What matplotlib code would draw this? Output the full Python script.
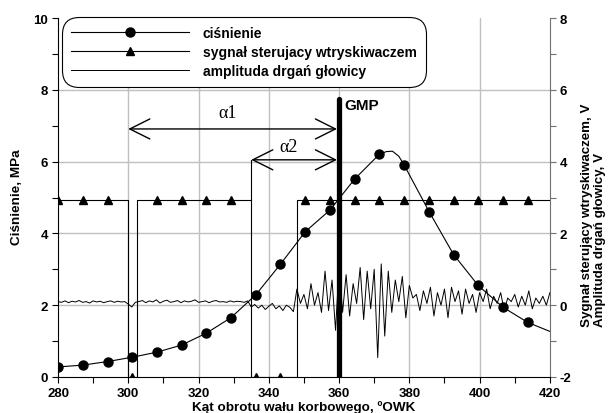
import numpy as np
import matplotlib
matplotlib.use("Agg")
import matplotlib.pyplot as plt
from matplotlib.ticker import MultipleLocator

plt.rcParams['font.family'] = ['Liberation Sans', 'DejaVu Sans']
plt.rcParams['font.weight'] = 'bold'
plt.rcParams['axes.unicode_minus'] = False

# ciśnienie (punkty z markerami co ~7 deg)
kat_p = [280.0, 287.0, 294.1, 301.1, 308.1, 315.2, 322.2, 329.2, 336.3, 343.3,
         350.4, 357.4, 364.4, 371.5, 378.5, 385.6, 392.6, 399.6, 406.7, 413.7]
cisn = [0.28, 0.33, 0.43, 0.55, 0.69, 0.89, 1.22, 1.65, 2.29, 3.14,
        4.05, 4.65, 5.51, 6.21, 5.91, 4.61, 3.41, 2.55, 1.94, 1.52]
# odczytane dodatkowe punkty linii (okolice szczytu i koniec)
kat_p_extra = [373.5, 375.2, 377.0, 420.0]
cisn_extra = [6.28, 6.29, 6.15, 1.27]

# sygnał sterujący wtryskiwaczem (prawa oś), przebieg prostokątny
kat_syg = [280, 300, 300, 302.4, 302.4, 335, 335, 348, 348, 420]
syg = [2.94, 2.94, -2.0, -2.0, 2.94, 2.94, -2.0, -2.0, 2.94, 2.94]
syg_mark = [2.94, 2.94, 2.94, -2.0, 2.94, 2.94, 2.94, 2.94, -2.0, -2.0,
            2.94, 2.94, 2.94, 2.94, 2.94, 2.94, 2.94, 2.94, 2.94, 2.94]

# amplituda drgań głowicy, co 1 deg od 280
drgania = [0.10, 0.08, 0.12, 0.07, 0.11, 0.09, 0.13, 0.08, 0.10, 0.06,
           0.12, 0.09, 0.11, 0.07, 0.10, 0.12, 0.08, 0.11, 0.09, 0.10,
           0.03, -0.05, 0.08,
           0.10, 0.13, 0.07, 0.12, 0.09, 0.15, 0.06, 0.11, 0.14, 0.08,
           0.10, 0.13, 0.07, 0.12, 0.09, 0.11, 0.15, 0.08, 0.10, 0.12,
           0.07, 0.11, 0.13, 0.09, 0.10, 0.08, 0.12, 0.09, 0.11, 0.10,
           0.08, 0.12,
           -0.05, 0.02, -0.08, 0.00, -0.12, -0.03, 0.05, -0.10, -0.02, -0.15,
           0.00, -0.06, -0.18,
           0.45, 0.05, 0.30, -0.10, 0.60, 0.00, 0.35, -0.20, 0.95, -0.15,
           0.70, -0.70,
           1.10, -0.20, 0.85, -0.30, 0.60, 0.05, 1.05, -0.40, 0.95, -0.10,
           1.00, -1.46, 1.15, -0.86, 0.95, -0.20, 0.70, 0.10, 0.80, -0.35,
           0.55,
           0.20, 0.30, -0.15, 0.40, 0.05, 0.50, -0.30, 0.35, 0.00, 0.45,
           -0.35, 0.50, 0.10, 0.40, -0.25, 0.45, 0.05, 0.30, -0.20, 0.35,
           0.10, 0.45, -0.10, 0.25, 0.05, 0.35, -0.15, 0.20, 0.10, 0.30,
           -0.05, 0.25, 0.00, 0.40, -0.10, 0.20, 0.05, 0.25, 0.00, 0.35]
kat_d = np.arange(280, 280 + len(drgania))

fig = plt.figure(figsize=(6.08, 4.14), dpi=100)
ax2 = fig.add_axes([0.0954, 0.087, 0.809, 0.867])
ax = ax2.twinx()
ax.yaxis.tick_left()
ax.yaxis.set_label_position('left')
ax2.yaxis.tick_right()

# siatka
for xg in [300, 320, 340, 360, 380, 400]:
    ax2.axvline(xg, color='#c0c0c0', lw=1, zorder=0)
for yg in [0, 2, 4, 6]:
    ax2.axhline(yg, color='#c0c0c0', lw=1, zorder=0)

l_syg, = ax2.plot(kat_syg, syg, color='black', lw=0.8)
ax2.plot(kat_p, syg_mark, ls='none', marker='^', ms=5.5, color='black')
l_d, = ax2.plot(kat_d, drgania, color='black', lw=0.7)

# linia ciśnienia przez punkty + odczytany szczyt
xs = np.array(kat_p + kat_p_extra)
ys = np.array(cisn + cisn_extra)
order = np.argsort(xs)
ax.plot(xs[order], ys[order], color='black', lw=0.8)
ax.plot(kat_p, cisn, ls='none', marker='o', ms=6.5, color='black')
h_p, = ax.plot([], [], color='black', lw=0.8, marker='o', ms=6.5)
h_s, = ax.plot([], [], color='black', lw=0.8, marker='^', ms=5.5)

# GMP
ax.plot([360, 360], [0, 7.75], color='black', lw=3.8, solid_capstyle='round', zorder=5)
ax.text(361.6, 7.58, 'GMP', fontsize=11, fontweight='bold', va='center', ha='left')

arr = dict(arrowstyle='<->,head_length=0.6,head_width=0.3', mutation_scale=24,
           lw=1.0, color='black', shrinkA=0, shrinkB=0)
ax.annotate('', xy=(300, 6.91), xytext=(359.4, 6.91), arrowprops=arr)
ax.annotate('', xy=(335, 6.05), xytext=(359.4, 6.05), arrowprops=arr)
ax.plot([335, 335], [4.94, 6.05], color='black', lw=0.8)
ax.text(328.4, 7.38, 'α1', family=['Liberation Serif', 'DejaVu Serif'], fontweight='normal',
        fontsize=13, ha='center', va='center')
ax.text(345.5, 6.41, 'α2', family=['Liberation Serif', 'DejaVu Serif'], fontweight='normal',
        fontsize=13, ha='center', va='center')

ax.set_xlim(280, 420)
ax.set_ylim(0, 10)
ax2.set_ylim(-2, 8)
ax2.set_xlim(280, 420)

ax.yaxis.set_major_locator(MultipleLocator(2))
ax.yaxis.set_minor_locator(MultipleLocator(1))
ax2.yaxis.set_major_locator(MultipleLocator(2))
ax2.yaxis.set_minor_locator(MultipleLocator(1))
ax2.xaxis.set_major_locator(MultipleLocator(20))
ax2.xaxis.set_minor_locator(MultipleLocator(10))

for a in (ax, ax2):
    a.tick_params(which='major', direction='out', length=4, width=0.8, labelsize=9.5, pad=3)
    a.tick_params(which='minor', direction='out', length=4, width=0.8)
    a.spines['top'].set_visible(False)
    for lab in a.get_xticklabels() + a.get_yticklabels():
        lab.set_fontweight('bold')

ax.spines['right'].set_visible(False)
ax.spines['bottom'].set_visible(False)
ax2.spines['left'].set_visible(False)
ax2.spines['right'].set_color('#707070')
ax2.tick_params(axis='y', which='both', colors='#707070', labelcolor='black')

leg = ax.legend([h_p, h_s, l_d],
                ['ciśnienie', 'sygnał sterujacy wtryskiwaczem', 'amplituda drgań głowicy'],
                loc='upper left', bbox_to_anchor=(0.008, 1.003), borderaxespad=0,
                prop=dict(size=10, weight='bold'), handlelength=8.5, handletextpad=1.0,
                labelspacing=0.35, borderpad=0.65, numpoints=1, fancybox=True,
                framealpha=1, edgecolor='black')
leg.get_frame().set_linewidth(0.8)
leg.get_frame().set_boxstyle('round', pad=0, rounding_size=1.2)

fig.text(17 / 608, 1 - 197 / 414, 'Ciśnienie, MPa', rotation=90, fontsize=9.7,
         fontweight='bold', ha='center', va='center')
fig.text(304 / 608, 1 - 408 / 414, 'Kąt obrotu wału korbowego, ºOWK', fontsize=9.7,
         fontweight='bold', ha='center', va='center')
fig.text(587 / 608, 1 - 327 / 414, 'Sygnał sterujący wtryskiwaczem, V', rotation=90,
         fontsize=9.6, fontweight='bold', ha='center', va='bottom')
fig.text(600 / 608, 1 - 327 / 414, 'Amplituda drgań głowicy, V', rotation=90,
         fontsize=9.6, fontweight='bold', ha='center', va='bottom')

fig.savefig('out.png', dpi=100, facecolor='white')
